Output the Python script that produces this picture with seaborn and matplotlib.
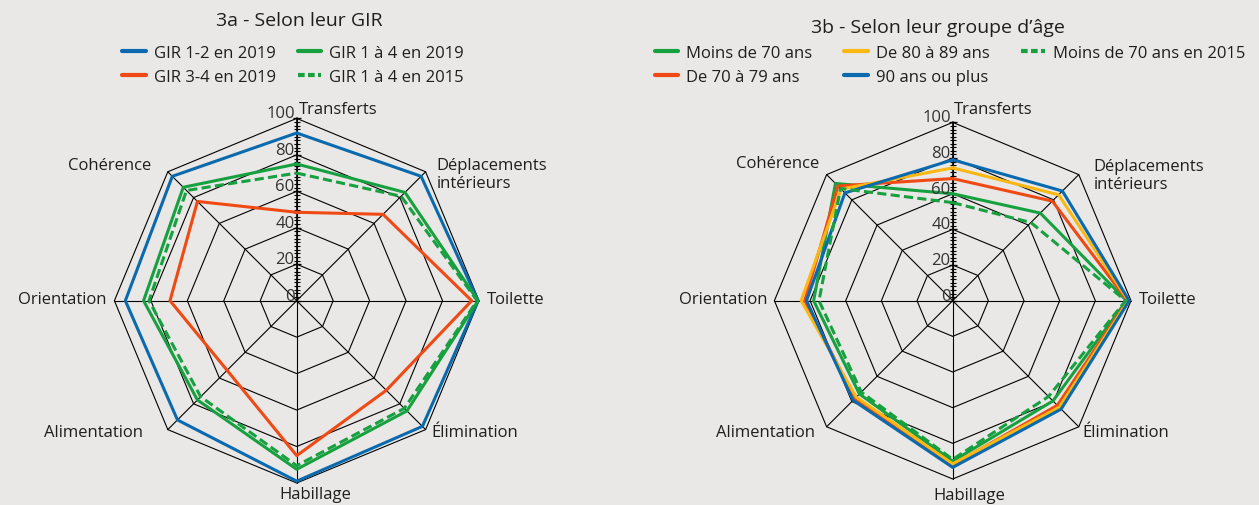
import numpy as np
import pandas as pd
import matplotlib
matplotlib.use('Agg')
import matplotlib.pyplot as plt
import seaborn as sns
from matplotlib.lines import Line2D

# Data (share, in %)
CATEGORIES = ['Transferts', 'Déplacements\nintérieurs', 'Toilette', 'Élimination',
              'Habillage', 'Alimentation', 'Orientation', 'Cohérence']

# 3a - by GIR
GIR_12_2019 = [92, 96.5, 99.5, 97.5, 99, 92.5, 94, 96.5]
GIR_34_2019 = [48.5, 67, 96, 69.5, 85, 54, 69.5, 77]
GIR_14_2019 = [75, 84, 99.5, 85.5, 92.5, 77, 84, 88]
GIR_14_2015 = [70, 81, 99, 83.5, 90.5, 74.5, 81, 85.5]

# 3b - by age group
AGE_LT70 = [60, 69.5, 97.5, 79.5, 90, 74, 78, 93]
AGE_70_79 = [68.5, 79, 98, 83, 92, 77.5, 83, 91]
AGE_80_89 = [74.5, 84, 98.5, 84.5, 91.5, 76.5, 85, 88.5]
AGE_90P = [79, 87, 99, 86, 93.5, 79, 82, 85.5]
AGE_LT70_2015 = [55, 62, 97, 76, 89, 72.5, 75, 89]

RADIAL_TICKS = [0, 20, 40, 60, 80, 100]

BG = '#e9e8e6'
BLUE = '#0a6aad'
RED = '#ef4a14'
GREEN = '#17a03f'
YELLOW = '#fbb712'
TEXT = '#1e1e1e'

sns.set_theme(style='white', rc={'figure.facecolor': BG, 'axes.facecolor': BG})
plt.rcParams['font.family'] = ['Open Sans', 'DejaVu Sans']


def long_table(series):
    n = len(CATEGORIES)
    theta = np.linspace(0, 2 * np.pi, n + 1)
    rows = []
    for name, vals in series.items():
        closed = list(vals) + [vals[0]]
        for t, v in zip(theta, closed):
            rows.append({'theta': t, 'value': v, 'serie': name})
    return pd.DataFrame(rows)


def draw_radar(ax, series, colors, dashed, label_offsets):
    n = len(CATEGORIES)
    theta = np.linspace(0, 2 * np.pi, n + 1)
    ax.set_theta_offset(np.pi / 2)
    ax.set_theta_direction(-1)
    ax.patch.set_alpha(0)
    ax.spines['polar'].set_visible(False)
    ax.grid(False)

    # octagonal grid + ticks on the Transferts spoke
    for r in RADIAL_TICKS[1:]:
        ax.plot(theta, [r] * (n + 1), color='black', lw=0.8, zorder=1, clip_on=False)
    for t in theta[:-1]:
        ax.plot([t, t], [0, 100], color='black', lw=0.8, zorder=1, clip_on=False)
    ax.plot([0, 0], [0, 100], color='black', lw=1.2, zorder=1)
    ax.plot([0] * 51, np.arange(0, 101, 2), ls='none', marker='_', ms=4,
            mew=0.8, color='black', zorder=1, clip_on=False)
    ax.plot([0] * 6, RADIAL_TICKS, ls='none', marker='_', ms=6,
            mew=0.9, color='black', zorder=1, clip_on=False)

    df = long_table(series)
    names = list(series.keys())
    sns.lineplot(data=df, x='theta', y='value', hue='serie', style='serie',
                 hue_order=names, style_order=names,
                 palette=colors,
                 dashes={k: ((3, 1.4) if k in dashed else '') for k in names},
                 sort=False, estimator=None, lw=2.2, legend=False, ax=ax, zorder=3)
    for ln in ax.lines:
        ln.set_clip_on(False)

    ax.set_ylim(0, 100)
    ax.set_xticks([])
    ax.set_yticks([])
    ax.set_xlabel('')
    ax.set_ylabel('')

    for r in RADIAL_TICKS:
        ax.annotate(str(r), xy=(0, r), xytext=(-2, 5), textcoords='offset pixels',
                    ha='right', va='center', fontsize=12, color='#333333')
    for t, lab, (dx, dy, ha) in zip(theta[:-1], CATEGORIES, label_offsets):
        ax.annotate(lab, xy=(t, 100), xytext=(dx, dy), textcoords='offset pixels',
                    ha=ha, va='center', fontsize=12, color=TEXT, linespacing=1.15,
                    annotation_clip=False)


fig = plt.figure(figsize=(12.59, 5.06), dpi=100)
W, H = 1259, 506

# 3a
ax1 = fig.add_axes([114.4 / W, 22 / H, 364.6 / W, 364.6 / H], projection='polar')
series_a = {'GIR 1-2 en 2019': GIR_12_2019, 'GIR 1 à 4 en 2019': GIR_14_2019,
            'GIR 1 à 4 en 2015': GIR_14_2015, 'GIR 3-4 en 2019': GIR_34_2019}
colors_a = {'GIR 1-2 en 2019': BLUE, 'GIR 1 à 4 en 2019': GREEN,
            'GIR 1 à 4 en 2015': GREEN, 'GIR 3-4 en 2019': RED}
offsets_a = [(2, 9, 'left'), (11, -2, 'left'), (8, 2, 'left'), (6, -2, 'left'),
             (19, -11, 'center'), (-25, -2, 'right'), (-8, 2, 'right'), (-17, 7, 'right')]
draw_radar(ax1, series_a, colors_a, ['GIR 1 à 4 en 2015'], offsets_a)

# 3b
ax2 = fig.add_axes([774.4 / W, 26 / H, 356.6 / W, 356.6 / H], projection='polar')
series_b = {'Moins de 70 ans': AGE_LT70, 'De 70 à 79 ans': AGE_70_79,
            'De 80 à 89 ans': AGE_80_89, '90 ans ou plus': AGE_90P,
            'Moins de 70 ans en 2015': AGE_LT70_2015}
colors_b = {'Moins de 70 ans': GREEN, 'De 70 à 79 ans': RED,
            'De 80 à 89 ans': YELLOW, '90 ans ou plus': BLUE,
            'Moins de 70 ans en 2015': GREEN}
offsets_b = [(1, 13, 'left'), (15, 0, 'left'), (8, 2, 'left'), (4, -5, 'left'),
             (17, -16, 'center'), (-12, -5, 'right'), (-7, 2, 'right'), (-7, 12, 'right')]
draw_radar(ax2, series_b, colors_b, ['Moins de 70 ans en 2015'], offsets_b)

# titles
fig.text(299 / W, 1 - 21 / H, '3a - Selon leur GIR', ha='center', va='center',
         fontsize=14, color=TEXT)
fig.text(938 / W, 1 - 28 / H, "3b - Selon leur groupe d’âge", ha='center', va='center',
         fontsize=14, color=TEXT)


def handle(color, dashed=False):
    return Line2D([], [], color=color, lw=3, ls=(0, (1.6, 0.8)) if dashed else '-')


leg_kw = dict(frameon=False, fontsize=12, handlelength=1.4, handletextpad=0.5,
              labelspacing=0.45, borderaxespad=0, borderpad=0, labelcolor=TEXT)
fig.legend([handle(BLUE), handle(RED), handle(GREEN), handle(GREEN, True)],
           ['GIR 1-2 en 2019', 'GIR 3-4 en 2019', 'GIR 1 à 4 en 2019', 'GIR 1 à 4 en 2015'],
           ncol=2, loc='upper center', bbox_to_anchor=(293 / W, 1 - 46 / H),
           columnspacing=1.3, **leg_kw)
fig.legend([handle(GREEN), handle(RED), handle(YELLOW), handle(BLUE), handle(GREEN, True)],
           ['Moins de 70 ans', 'De 70 à 79 ans', 'De 80 à 89 ans', '90 ans ou plus',
            'Moins de 70 ans en 2015'],
           ncol=3, loc='upper center', bbox_to_anchor=(950 / W, 1 - 46 / H),
           columnspacing=1.9, **leg_kw)

fig.savefig('out.png', dpi=100, facecolor=BG)
